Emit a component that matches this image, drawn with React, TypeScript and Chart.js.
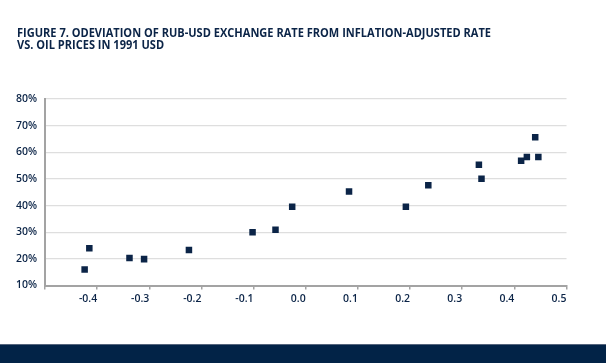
import React, { useEffect, useLayoutEffect, useRef } from "react";
import { Chart, registerables } from "chart.js";

Chart.register(...registerables);

const titleLines = [
  "FIGURE 7. ODEVIATION OF RUB-USD EXCHANGE RATE FROM INFLATION-ADJUSTED RATE",
  "VS. OIL PRICES IN 1991 USD",
];

const oilDeviation = [
  -0.424, -0.415, -0.338, -0.31, -0.224, -0.102, -0.058, -0.026, 0.083, 0.192,
  0.235, 0.332, 0.337, 0.413, 0.424, 0.44, 0.446,
];
const rateDeviation = [
  16.0, 24.0, 20.3, 19.9, 23.3, 30.0, 30.9, 39.6, 45.3, 39.6, 47.6, 55.3, 50.1,
  56.8, 58.2, 65.6, 58.2,
];

const xMin = -0.5;
const xMax = 0.5;
const xStep = 0.1;
const yMin = 10;
const yMax = 80;
const yStep = 10;

const NAVY = "#0b2447";
const AXIS = "#a3a3a3";
const GRID = "#dedede";

export default function App() {
  const canvasRef = useRef<HTMLCanvasElement | null>(null);
  const titleRef = useRef<HTMLDivElement | null>(null);
  const line1Ref = useRef<HTMLSpanElement | null>(null);

  useLayoutEffect(() => {
    const t = titleRef.current;
    const l1 = line1Ref.current;
    if (t && l1) {
      const w = l1.getBoundingClientRect().width;
      if (w > 0) t.style.transform = `scaleX(${474 / w})`;
    }
  }, []);

  useEffect(() => {
    const canvas = canvasRef.current;
    if (!canvas) return;
    const points = oilDeviation.map((x, i) => ({ x, y: rateDeviation[i] }));
    const chart = new Chart(canvas, {
      type: "scatter",
      data: {
        datasets: [
          {
            data: points,
            pointStyle: "rect",
            pointRadius: 4.6,
            pointHoverRadius: 4.6,
            borderWidth: 0,
            backgroundColor: NAVY,
            borderColor: NAVY,
          },
        ],
      },
      options: {
        animation: false,
        responsive: false,
        maintainAspectRatio: false,
        devicePixelRatio: 1,
        layout: { padding: { left: 0, right: 39.5, top: 99, bottom: 47.5 } },
        plugins: {
          legend: { display: false },
          tooltip: { enabled: false },
          title: { display: false },
        },
        scales: {
          x: {
            type: "linear",
            min: xMin,
            max: xMax,
            afterFit: (s: any) => {
              s.height = 30;
            },
            border: { display: true, color: AXIS, width: 2 },
            grid: {
              display: true,
              drawOnChartArea: false,
              drawTicks: true,
              tickLength: 4,
              color: AXIS,
              lineWidth: 1.5,
            },
            ticks: {
              stepSize: xStep,
              align: "end",
              padding: 3,
              color: NAVY,
              font: { family: "'Open Sans', sans-serif", size: 10.5, weight: "600" },
              maxRotation: 0,
              callback: (v: any) => {
                const r = Math.round(Number(v) * 10) / 10;
                if (Math.abs(r - xMin) < 1e-9) return "";
                return (r === 0 ? 0 : r).toFixed(1);
              },
            },
          },
          y: {
            type: "linear",
            min: yMin,
            max: yMax,
            afterFit: (s: any) => {
              s.width = 45;
            },
            border: { display: true, color: AXIS, width: 2 },
            grid: {
              display: true,
              drawTicks: false,
              color: GRID,
              lineWidth: 1.2,
            },
            ticks: {
              stepSize: yStep,
              padding: 8,
              color: NAVY,
              font: { family: "'Open Sans', sans-serif", size: 10.5, weight: "600" },
              callback: (v: any) => `${Math.round(Number(v))}%`,
            },
          },
        },
      },
    });
    return () => chart.destroy();
  }, []);

  return (
    <div
      style={{
        position: "absolute",
        left: 0,
        top: 0,
        width: 606,
        height: 363,
        background: "#ffffff",
        overflow: "hidden",
      }}
    >
      <canvas
        ref={canvasRef}
        width={606}
        height={363}
        style={{ position: "absolute", left: 0, top: 0, width: 606, height: 363 }}
      />
      <div
        ref={titleRef}
        style={{
          position: "absolute",
          left: 16.5,
          top: 27,
          transformOrigin: "0 0",
          fontFamily: "'Open Sans', sans-serif",
          fontWeight: 700,
          fontSize: 11.5,
          lineHeight: "12px",
          color: NAVY,
          whiteSpace: "nowrap",
        }}
      >
        <span ref={line1Ref}>{titleLines[0]}</span>
        <br />
        <span>{titleLines[1]}</span>
      </div>
      <div
        style={{
          position: "absolute",
          left: 0,
          top: 344,
          width: 606,
          height: 19,
          background: "#022347",
          borderTop: "1px solid #55657d",
          boxSizing: "border-box",
        }}
      />
    </div>
  );
}
